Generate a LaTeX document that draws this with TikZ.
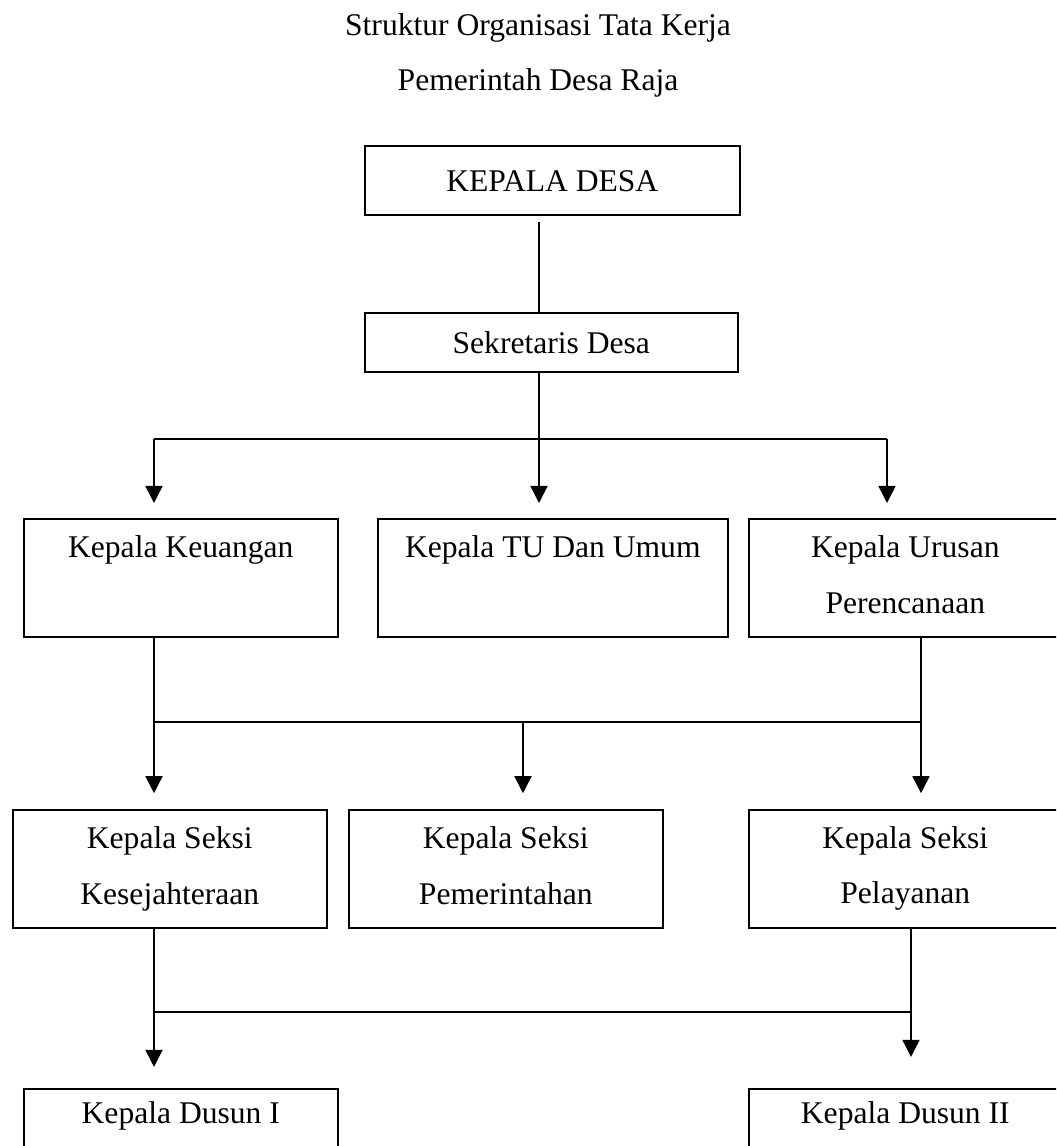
\documentclass[tikz,border=0pt]{standalone}
\usepackage{fontspec}
\setmainfont{Liberation Serif}
\usetikzlibrary{arrows.meta, positioning, calc}

\begin{document}
\begin{tikzpicture}[
    x=0.38pt, y=-0.38pt,
    box/.style 2 args={rectangle, draw, line width=0.6pt, anchor=north west,
                  inner sep=0pt, align=center,
                  minimum width=#1*0.38pt, minimum height=#2*0.38pt,
                  font=\fontsize{12}{21}\selectfont,
                  execute at begin node=\rule{0pt}{10.8pt},
                  execute at end node=\vphantom{j}},
    title/.style={font=\fontsize{12}{14}\selectfont},
    link/.style={line width=0.6pt},
    arrow/.style={-{Triangle[length=6.5pt, width=6.5pt]}, line width=0.6pt}
  ]
    \useasboundingbox (0,0) rectangle (1056,1146);
    \clip (0,0) rectangle (1056,1146);

    % Title
    \node[title] (judul)    at (538,28) {Struktur Organisasi Tata Kerja};
    \node[title] (subjudul) at (538,83) {Pemerintah Desa Raja};

    % Head and secretary
    \node[box={375}{69}] (kades)  at (364,145) {KEPALA DESA};
    \node[box={373}{59}] (sekdes) at (364,312) {Sekretaris Desa};

    % Urusan
    \node[box={314}{118}] (keuangan)    at (23,518)  {Kepala Keuangan\\ \mbox{}};
    \node[box={350}{118}] (umum)        at (377,518) {Kepala TU Dan Umum\\ \mbox{}};
    \node[box={313}{118}] (perencanaan) at (748,518) {Kepala Urusan\\Perencanaan};

    % Seksi
    \node[box={314}{118}] (kesejahteraan) at (12,809)  {Kepala Seksi\\Kesejahteraan};
    \node[box={314}{118}] (pemerintahan)  at (348,809) {Kepala Seksi\\Pemerintahan};
    \node[box={313}{118}] (pelayanan)     at (748,809) {Kepala Seksi\\Pelayanan};

    % Dusun
    \node[box={314}{109}] (dusun1) at (23,1088)  {Kepala Dusun I\\ \mbox{}};
    \node[box={313}{109}] (dusun2) at (748,1088) {Kepala Dusun II\\ \mbox{}};

    % Branch points
    \coordinate (s0)  at (539,439);
    \coordinate (s0l) at (154,439);
    \coordinate (s0r) at (887,439);
    \coordinate (s1l) at (154,722);
    \coordinate (s1m) at (523,722);
    \coordinate (s1r) at (921,722);
    \coordinate (s2l) at (154,1012);
    \coordinate (s2r) at (911,1012);

    % Kepala desa to sekretaris
    \draw[link, shorten <=2.3pt] (kades.south -| s0) -- (sekdes.north -| s0);

    % Sekretaris to urusan
    \draw[link] (s0l) -- (s0r);
    \draw[arrow, shorten >=5.7pt] (sekdes.south -| s0) -- (s0 |- umum.north);
    \draw[arrow, shorten >=5.7pt] (s0l) -- (s0l |- keuangan.north);
    \draw[arrow, shorten >=5.7pt] (s0r) -- (s0r |- perencanaan.north);

    % Urusan to seksi
    \draw[link] (keuangan.south -| s1l) -- (s1l);
    \draw[link] (perencanaan.south -| s1r) -- (s1r);
    \draw[link] (s1l) -- (s1r);
    \draw[arrow, shorten >=6pt] (s1l) -- (s1l |- kesejahteraan.north);
    \draw[arrow, shorten >=6pt] (s1m) -- (s1m |- pemerintahan.north);
    \draw[arrow, shorten >=6pt] (s1r) -- (s1r |- pelayanan.north);

    % Seksi to dusun
    \draw[link] (kesejahteraan.south -| s2l) -- (s2l);
    \draw[link] (pelayanan.south -| s2r) -- (s2r);
    \draw[link] (s2l) -- (s2r);
    \draw[arrow, shorten >=8pt]    (s2l) -- (s2l |- dusun1.north);
    \draw[arrow, shorten >=11.8pt] (s2r) -- (s2r |- dusun2.north);
  \end{tikzpicture}
\end{document}
